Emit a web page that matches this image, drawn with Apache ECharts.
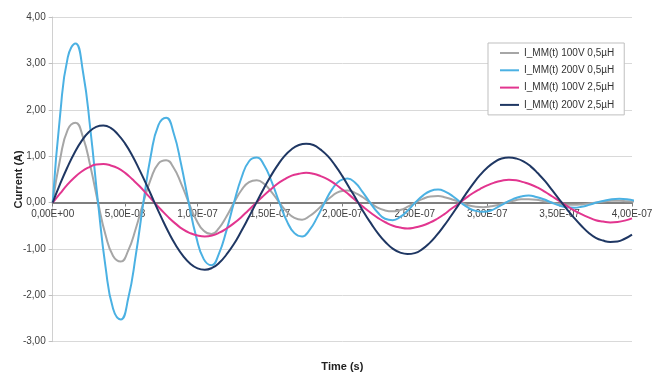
<!DOCTYPE html>
<html>
<head>
<meta charset="utf-8">
<script src="https://cdn.jsdelivr.net/npm/echarts@6/dist/echarts.min.js"></script>
<style>
html,body{margin:0;padding:0;background:#fff;}
#chart{width:666px;height:374px;}
</style>
</head>
<body>
<div id="chart"></div>
<script>
// times in nanoseconds (axis labelled in seconds)
// sample times for the two 0,5µH curves
const fastTimesNs = [0,5.2,10.4,15.7,20.9,26.1,31.3,36.5,41.7,47.0,52.2,57.4,62.6,67.8,73.0,78.3,83.5,88.7,93.9,99.1,104.3,109.6,114.8,120.0,125.2,130.4,135.6,140.9,146.1,151.3,156.5,161.7,166.9,172.2,177.4,182.6,187.8,193.0,198.2,203.5,208.7,213.9,219.1,224.3,229.5,234.8,240.0,245.2,250.4,255.6,260.8,266.1,271.3,276.5,281.7,286.9,292.1,297.4,302.6,307.8,313.0,318.2,323.4,328.7,333.9,339.1,344.3,349.5,354.7,360.0,365.2,370.4,375.6,380.8,386.0,391.3,396.5,401.7];
// sample times for the two 2,5µH curves
const slowTimesNs = [0,5,10,15,20,25,30,35,40,45,50,55,60,65,70,75,80,85,90,95,100,105,110,115,120,125,130,135,140,145,150,155,160,165,170,175,180,185,190,195,200,205,210,215,220,225,230,235,240,245,250,255,260,265,270,275,280,285,290,295,300,305,310,315,320,325,330,335,340,345,350,355,360,365,370,375,380,385,390,395,400];

const seriesNames = ['I_MM(t) 100V 0,5µH','I_MM(t) 200V 0,5µH','I_MM(t) 100V 2,5µH','I_MM(t) 200V 2,5µH'];

const grey100V05 = [0,0.95,1.57,1.72,1.41,0.77,0,-0.70,-1.15,-1.27,-1.03,-0.56,0,0.51,0.84,0.91,0.75,0.41,0,-0.37,-0.61,-0.68,-0.55,-0.30,0,0.27,0.44,0.48,0.40,0.22,0,-0.20,-0.33,-0.37,-0.29,-0.16,0,0.14,0.24,0.26,0.21,0.12,0,-0.11,-0.17,-0.19,-0.16,-0.09,0,0.08,0.13,0.14,0.11,0.06,0,-0.06,-0.09,-0.10,-0.08,-0.05,0,0.04,0.07,0.07,0.06,0.03,0,-0.03,-0.05,-0.05,-0.04,-0.02,0,0.02,0.04,0.04,0.03,0.02];

const blue200V05 = [0,1.91,3.13,3.43,2.82,1.55,0,-1.39,-2.29,-2.52,-2.06,-1.13,0,1.02,1.67,1.83,1.50,0.82,0,-0.74,-1.22,-1.35,-1.10,-0.60,0,0.54,0.89,0.97,0.80,0.44,0,-0.40,-0.66,-0.73,-0.59,-0.32,0,0.29,0.47,0.52,0.43,0.23,0,-0.21,-0.35,-0.38,-0.31,-0.17,0,0.15,0.25,0.28,0.23,0.13,0,-0.11,-0.18,-0.20,-0.17,-0.09,0,0.08,0.13,0.15,0.12,0.07,0,-0.06,-0.10,-0.11,-0.09,-0.05,0,0.04,0.07,0.08,0.07,0.04];

const pink100V25 = [0,0.19,0.38,0.54,0.67,0.76,0.82,0.83,0.80,0.74,0.64,0.50,0.35,0.18,0.01,-0.16,-0.32,-0.46,-0.58,-0.66,-0.71,-0.73,-0.71,-0.65,-0.56,-0.45,-0.32,-0.17,-0.02,0.13,0.27,0.40,0.50,0.58,0.62,0.64,0.62,0.57,0.50,0.40,0.28,0.16,0.02,-0.11,-0.23,-0.34,-0.43,-0.50,-0.54,-0.56,-0.54,-0.50,-0.44,-0.36,-0.26,-0.14,-0.03,0.09,0.20,0.29,0.37,0.43,0.47,0.49,0.48,0.44,0.39,0.32,0.23,0.13,0.03,-0.07,-0.17,-0.25,-0.32,-0.38,-0.41,-0.43,-0.42,-0.39,-0.34];

const navy200V25 = [0,0.39,0.75,1.07,1.33,1.52,1.63,1.66,1.61,1.47,1.27,1.01,0.70,0.37,0.02,-0.32,-0.64,-0.92,-1.15,-1.32,-1.42,-1.45,-1.41,-1.30,-1.12,-0.90,-0.63,-0.34,-0.04,0.26,0.54,0.79,1.00,1.15,1.24,1.27,1.24,1.14,1.00,0.80,0.57,0.31,0.05,-0.22,-0.46,-0.68,-0.86,-1.00,-1.08,-1.11,-1.09,-1.01,-0.88,-0.71,-0.51,-0.29,-0.06,0.17,0.39,0.59,0.75,0.87,0.95,0.97,0.95,0.89,0.78,0.63,0.46,0.26,0.06,-0.14,-0.33,-0.50,-0.65,-0.76,-0.82,-0.85,-0.84,-0.78,-0.69];

const xTickLabels = ['0,00E+00','5,00E-08','1,00E-07','1,50E-07','2,00E-07','2,50E-07','3,00E-07','3,50E-07','4,00E-07'];
const yTickLabels = ['-3,00','-2,00','-1,00','0,00','1,00','2,00','3,00','4,00'];

const colors = ['#a6a6a6','#4bb1e3','#e2358f','#1f3763'];
const values = [grey100V05, blue200V05, pink100V25, navy200V25];
const times = [fastTimesNs, fastTimesNs, slowTimesNs, slowTimesNs];

const chart = echarts.init(document.getElementById('chart'), null, {renderer:'canvas'});
const font = 'Liberation Sans, Arial, sans-serif';

const gridTop = 17, gridBottom = 32.3, yMin = -3, yMax = 4;
const plotH = 374 - gridTop - gridBottom;
// shift the x axis from the bottom of the grid up to the value 0 of the y axis
const zeroOffset = -plotH * (0 - yMin) / (yMax - yMin);

chart.setOption({
  animation: false,
  backgroundColor: '#ffffff',
  grid: {left: 52.7, right: 34, top: gridTop, bottom: gridBottom, containLabel: false, outerBoundsMode: 'none'},
  legend: {
    orient: 'vertical',
    left: 488, top: 43,
    backgroundColor: '#ffffff',
    borderColor: '#bfbfbf', borderWidth: 1, borderRadius: 0,
    padding: [5, 10, 5, 12],
    itemWidth: 19, itemHeight: 2, itemGap: 7.3,
    icon: 'rect',
    textStyle: {fontFamily: font, fontSize: 10, color: '#333333'},
    data: seriesNames
  },
  xAxis: {
    type: 'value', min: 0, max: 400, interval: 50,
    offset: zeroOffset,
    axisLine: {onZero: false, lineStyle: {color: '#7f7f7f', width: 2}},
    axisTick: {show: true, length: 4, lineStyle: {color: '#7f7f7f', width: 1}},
    axisLabel: {fontFamily: font, fontSize: 10, color: '#404040', margin: 7,
      formatter: v => xTickLabels[Math.round(v / 50)] || ''},
    splitLine: {show: false},
    name: 'Time (s)', nameLocation: 'middle', nameGap: 159, nameMoveOverlap: false,
    nameTextStyle: {fontFamily: font, fontSize: 11, fontWeight: 'bold', color: '#222222'}
  },
  yAxis: {
    type: 'value', min: yMin, max: yMax, interval: 1,
    axisLine: {show: true, lineStyle: {color: '#d0d0d0', width: 1}},
    axisTick: {show: true, length: 4, lineStyle: {color: '#bfbfbf'}},
    axisLabel: {fontFamily: font, fontSize: 10, color: '#404040', margin: 7,
      formatter: v => yTickLabels[Math.round(v - yMin)] || ''},
    splitLine: {show: true, lineStyle: {color: '#d9d9d9', width: 1}},
    name: 'Current (A)', nameLocation: 'middle', nameGap: 28, nameRotate: 90, nameMoveOverlap: false,
    nameTextStyle: {fontFamily: font, fontSize: 11, fontWeight: 'bold', color: '#222222'}
  },
  series: seriesNames.map((name, i) => ({
    name: name,
    type: 'line',
    smooth: true,
    showSymbol: false,
    symbol: 'none',
    color: colors[i],
    lineStyle: {color: colors[i], width: 2},
    data: times[i].map((t, j) => [t, values[i][j]])
  }))
});
</script>
</body>
</html>
